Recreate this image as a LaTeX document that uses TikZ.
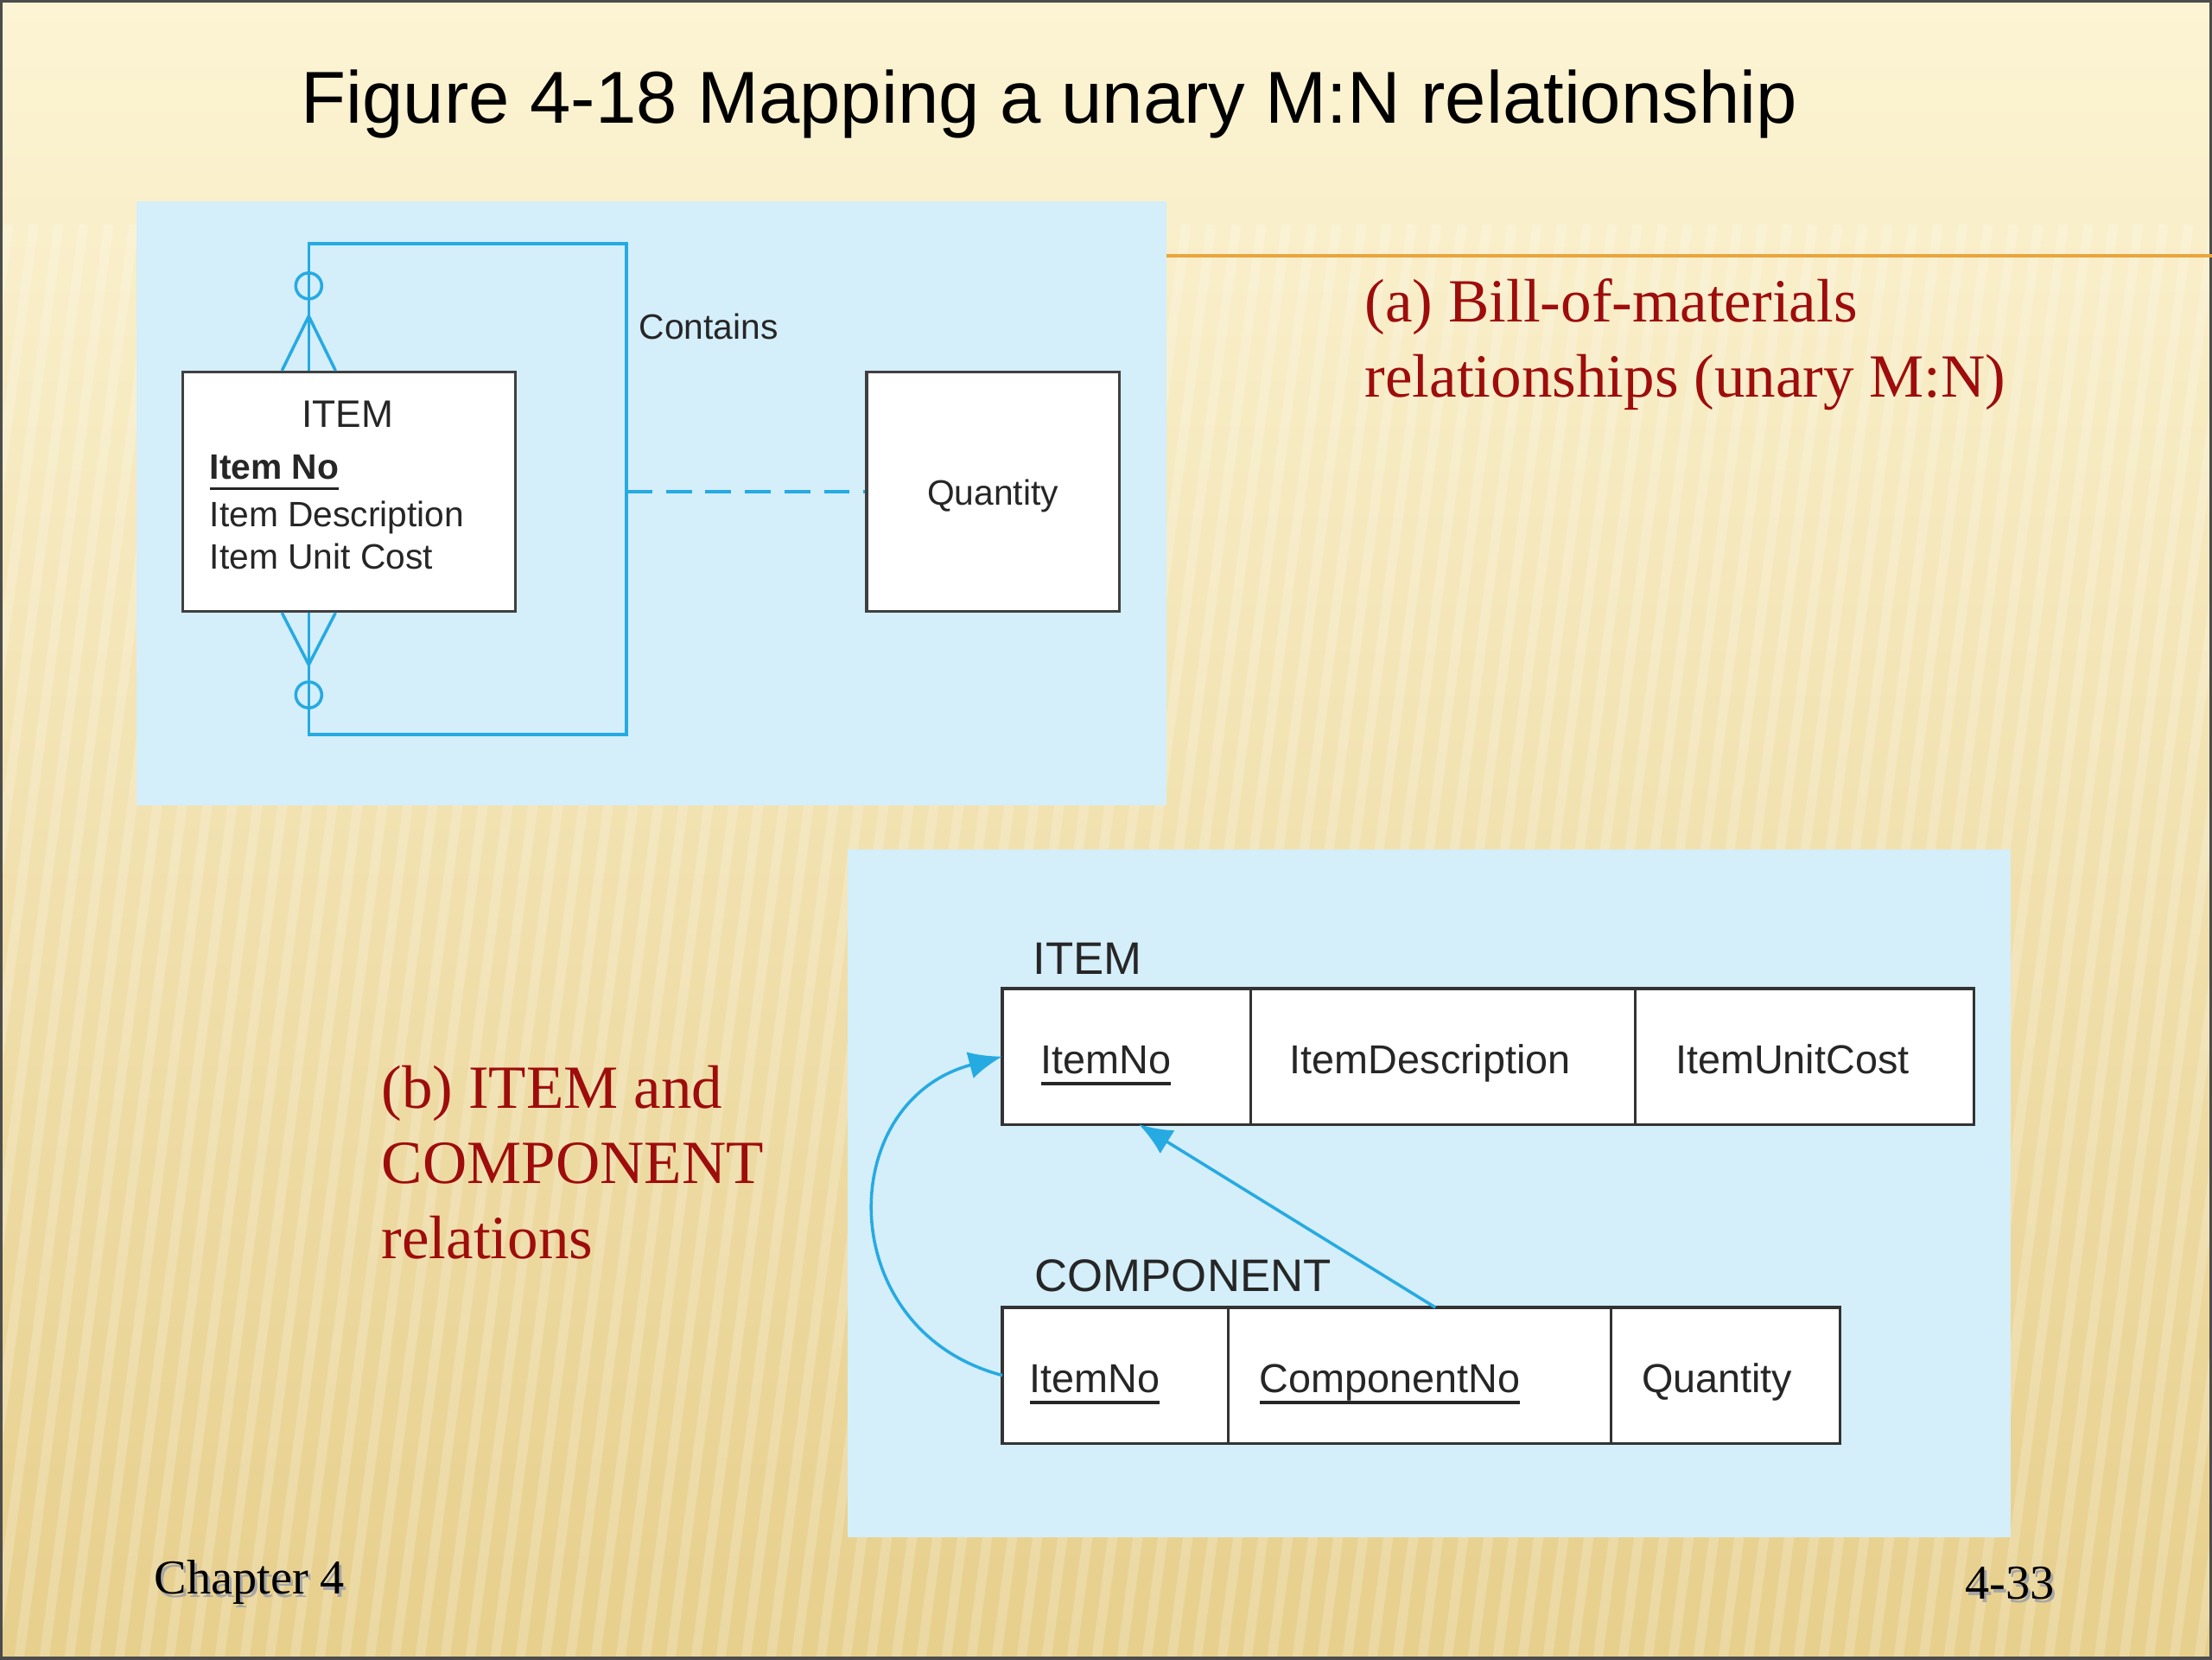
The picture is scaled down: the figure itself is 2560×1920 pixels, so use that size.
\documentclass[tikz,border=0pt]{standalone}
\usepackage{fontspec}
\setmainfont{Liberation Serif}
\setsansfont{Liberation Sans}
\usetikzlibrary{positioning,arrows.meta,calc}
\definecolor{panelblue}{RGB}{212,238,250}
\definecolor{linkblue}{RGB}{38,170,226}
\definecolor{capred}{RGB}{158,12,12}
\definecolor{rulegold}{RGB}{232,165,60}
\definecolor{slidetop}{RGB}{252,244,212}
\definecolor{slidebot}{RGB}{231,207,140}
\tikzset{link/.style={linkblue, line width=1pt},
         fk/.style={-{Latex[length=11pt,width=9pt]}, linkblue, line width=1pt},
         entity/.style={draw=black!75, fill=white, line width=0.9pt, inner sep=0pt},
         cell/.style={draw=black!80, fill=white, line width=0.9pt, inner sep=0pt, outer sep=0pt, minimum height=1.57cm},
         attr/.style={font=\sffamily\fontsize{11.6}{14}\selectfont, inner sep=0pt, text=black!85},
         fld/.style={font=\sffamily\fontsize{13.3}{16}\selectfont, inner sep=0pt, text=black!85, anchor=base west},
         tname/.style={font=\sffamily\fontsize{15}{18}\selectfont, inner sep=0pt, text=black!85, anchor=base west},
         caption/.style={font=\fontsize{20.2}{24.7}\selectfont, text=capred, align=left, inner sep=0pt, anchor=base west},
         foot/.style={font=\fontsize{16}{19}\selectfont, inner sep=0pt}
}
\newcommand{\keyfield}[1]{\setbox0\hbox{#1}\rlap{\rule[-3.7pt]{\wd0}{0.9pt}}\box0}

\begin{document}
\begin{tikzpicture}[x=0.01cm,y=-0.01cm]
      \useasboundingbox (0,0) rectangle (2560,1920);
      % slide background
      \shade[top color=slidetop, bottom color=slidebot] (0,0) rectangle (2560,1920);
      \begin{scope}
        \clip (0,0) rectangle (2560,1920);
        \foreach \sx in {-500,-471,...,2600}
          \draw[white, opacity=0.2, line width=3.2pt] (\sx,1920) -- (\sx+220,260);
      \end{scope}
      \draw[black!70, line width=1.5pt] (0,0) rectangle (2560,1920);
      \node[font=\sffamily\fontsize{24.2}{29}\selectfont, anchor=base west, inner sep=0pt] (title) at (348,142) {Figure 4-18 Mapping a unary M:N relationship};
      % panels
      \fill[panelblue] (158,233) rectangle (1350,932);
      \fill[panelblue] (981,983) rectangle (2327,1779);
      \draw[rulegold, line width=1.2pt] (1350,296) -- (2560,296);
      \node[caption] (capa) at (1579,459) {(a) Bill-of-materials\\relationships (unary M:N)};
      \node[caption] (capb) at (441,1456) {(b) ITEM and\\COMPONENT\\relations};
      % (a) E-R diagram
      \node[entity, minimum width=3.84cm, minimum height=2.77cm] (item) at (404,569) {};
      \node[entity, minimum width=2.92cm, minimum height=2.77cm] (qtybox) at (1149,569) {};
      \node[attr, anchor=base, font=\sffamily\fontsize{12.6}{15}\selectfont] (itemhead) at (402,494) {ITEM};
      \node[attr, anchor=base west, font=\sffamily\bfseries\fontsize{11.6}{14}\selectfont] (ino) at (242,554) {\keyfield{Item No}};
      \node[attr, anchor=base west] (idsc) at (242,609) {Item Description};
      \node[attr, anchor=base west] (icst) at (242,658) {Item Unit Cost};
      \node[attr, anchor=base] (qtyl) at (1149,584) {Quantity};
      \coordinate (ltop) at ($(item.north west)+(147,0)$);
      \coordinate (lbot) at ($(item.south west)+(147,0)$);
      \coordinate (contains) at (725,569);
      \draw[link] (ltop) -- ++(0,-147) -| (contains) -- ++(0,281) -| (lbot);
      \node[attr, anchor=base west] (rel) at (739,392) {Contains};
      \draw[link, dash pattern=on 8.5pt off 4.5pt] (contains) -- (qtybox.west);
      \node[draw=linkblue, circle, line width=1pt, minimum size=0.3cm, inner sep=0pt] (otop) at ($(ltop)+(0,-98)$) {};
      \node[draw=linkblue, circle, line width=1pt, minimum size=0.3cm, inner sep=0pt] (obot) at ($(lbot)+(0,95)$) {};
      \draw[link] ($(ltop)+(-31,0)$) -- ($(ltop)+(0,-63)$) -- ($(ltop)+(31,0)$);
      \draw[link] ($(lbot)+(-31,0)$) -- ($(lbot)+(0,60)$) -- ($(lbot)+(31,0)$);
      % (b) relations
      \node[tname] (itemrel) at (1195,1127) {ITEM};
      \node[cell, minimum width=2.87cm, anchor=north west] (ino2) at (1160,1144) {};
      \node[cell, minimum width=4.45cm, right=0pt of ino2] (idesc) {};
      \node[cell, minimum width=3.92cm, right=0pt of idesc] (icost) {};
      \node[fld] (f1) at ($(ino2.west)+(44,20)$) {\keyfield{ItemNo}};
      \node[fld] (f2) at ($(idesc.west)+(45,20)$) {ItemDescription};
      \node[fld] (f3) at ($(icost.west)+(46,20)$) {ItemUnitCost};
      \node[tname] (comprel) at (1197,1494) {COMPONENT};
      \node[cell, minimum width=2.61cm, anchor=north west] (cino) at (1160,1513) {};
      \node[cell, minimum width=4.43cm, right=0pt of cino] (cno) {};
      \node[cell, minimum width=2.65cm, right=0pt of cno] (cqty) {};
      \node[fld] (g1) at ($(cino.west)+(31,20)$) {\keyfield{ItemNo}};
      \node[fld] (g2) at ($(cno.west)+(36,20)$) {\keyfield{ComponentNo}};
      \node[fld] (g3) at ($(cqty.west)+(35,20)$) {Quantity};
      \draw[fk] (cino.west) .. controls (964,1540) and (964,1275) .. (ino2.west);
      \draw[fk] ($(cno.north west)+(240,0)$) -- ($(ino2.south west)+(158,0)$);
      % footer
      \node[foot, anchor=base west, text=black!35] (chaps) at (181,1848) {Chapter 4};
      \node[foot, anchor=base west] (chap) at (178,1844) {Chapter 4};
      \node[foot, anchor=base east, text=black!35] (pgs) at (2381,1854) {4-33};
      \node[foot, anchor=base east] (pg) at (2378,1850) {4-33};
\end{tikzpicture}
\end{document}
